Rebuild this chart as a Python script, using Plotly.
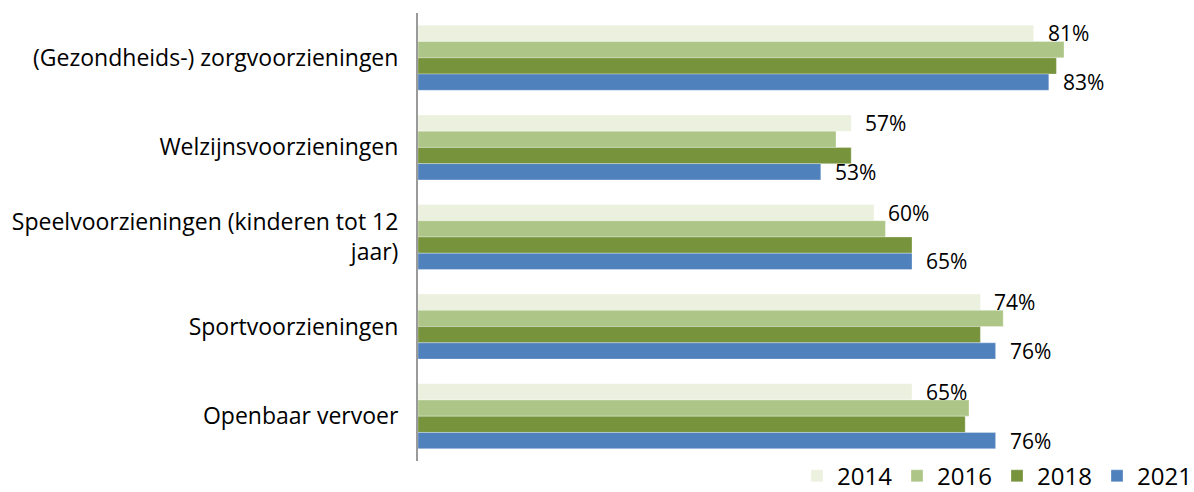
import plotly.graph_objects as go

categories = [
    "(Gezondheids-) zorgvoorzieningen",
    "Welzijnsvoorzieningen",
    "Speelvoorzieningen (kinderen tot 12<br>jaar)",
    "Sportvoorzieningen",
    "Openbaar vervoer",
]
years = ["2014", "2016", "2018", "2021"]
v2014 = [81, 57, 60, 74, 65]
v2016 = [85, 55, 61.5, 77, 72.5]
v2018 = [84, 57, 65, 74, 72]
v2021 = [83, 53, 65, 76, 76]
values = [v2014, v2016, v2018, v2021]
colors = ["#EBF1DE", "#ADC687", "#77933C", "#4F81BD"]
labelled = {"2014": v2014, "2021": v2021}

FONT = "Open Sans"

fig = go.Figure()
for yr, vals, col in zip(years, values, colors):
    fig.add_trace(go.Bar(
        name=yr, y=categories, x=vals, orientation="h",
        marker=dict(color=col, line=dict(color="rgba(255,255,255,0.6)", width=0.5)),
        hoverinfo="x+name",
    ))

# bar label offsets (2014 at top of group, 2021 at bottom)
bar_px = 16.25
for yr, shift in (("2014", 1.5 * bar_px), ("2021", -1.5 * bar_px)):
    for cat, v in zip(categories, labelled[yr]):
        fig.add_annotation(
            x=v, y=cat, text=f"{v:.0f}%", showarrow=False,
            xanchor="left", yanchor="middle", xshift=12, yshift=shift,
            font=dict(family=FONT, size=21, color="#000000"),
        )

fig.update_layout(
    width=1194, height=492,
    margin=dict(l=418, r=16, t=13, b=31, autoexpand=False),
    plot_bgcolor="white", paper_bgcolor="white",
    barmode="group", bargap=0.275, bargroupgap=0,
    font=dict(family=FONT, size=23, color="#000000"),
    showlegend=True,
    legend=dict(
        orientation="h", x=1.025, xanchor="right",
        y=-0.034, yanchor="middle",
        entrywidth=55, entrywidthmode="pixels",
        font=dict(family=FONT, size=24, color="#000000"),
        bgcolor="rgba(0,0,0,0)",
    ),
)
fig.update_xaxes(range=[0, 100], showgrid=False, showticklabels=False,
                 zeroline=False, showline=False, fixedrange=True)
fig.update_yaxes(autorange="reversed", showgrid=False, showline=True,
                 linecolor="#9A9A9A", linewidth=2, ticks="",
                 ticklabelstandoff=13, fixedrange=True,
                 tickfont=dict(family=FONT, size=23, color="#000000"))

fig.write_html("out.html")
